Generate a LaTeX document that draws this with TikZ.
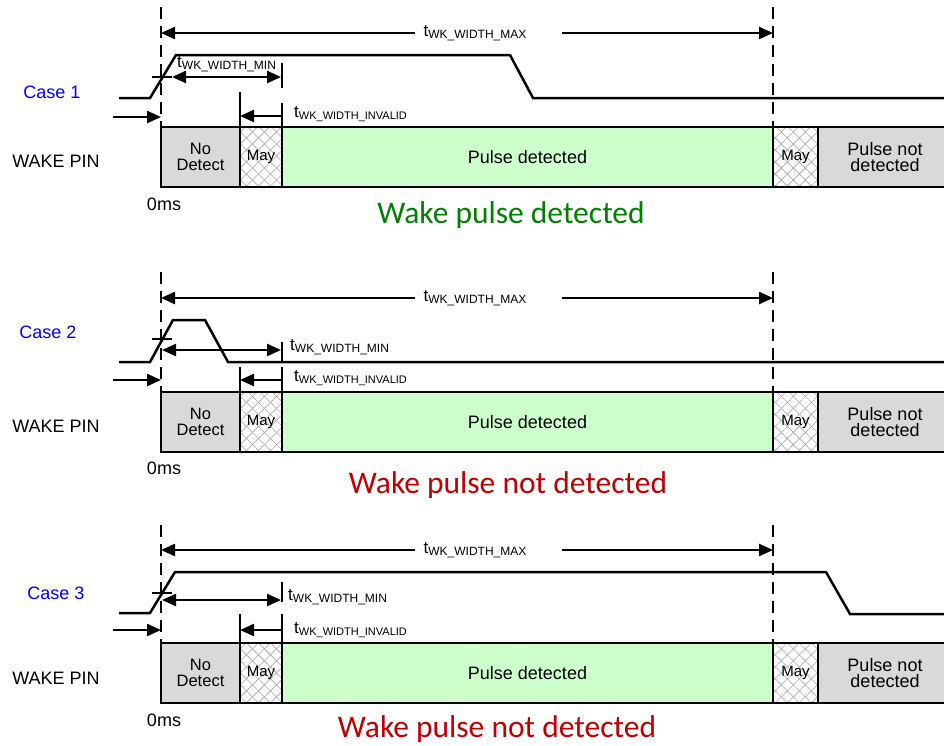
\documentclass[tikz,border=0pt]{standalone}
\usepackage{fontspec}
\setmainfont{Liberation Sans}
\newfontfamily\calibri{Carlito}
\usetikzlibrary{arrows.meta, patterns.meta}
\definecolor{zonegray}{RGB}{217,217,217}
\definecolor{zonegreen}{RGB}{204,255,204}
\definecolor{okgreen}{RGB}{0,128,0}
\definecolor{failred}{RGB}{192,0,0}
\definecolor{caseblue}{RGB}{0,0,255}
\newcommand{\tsub}[2][12]{{\fontsize{17}{17}\selectfont t}\raisebox{-2pt}{\fontsize{#1}{#1}\selectfont #2}}

\begin{document}
\begin{tikzpicture}[x=1pt, y=-1pt,
  sig/.style={line width=2.5pt},
  guide/.style={line width=2.2pt, dash pattern=on 12pt off 7pt},
  tickmark/.style={line width=2.2pt},
  dim/.style={line width=2.4pt, -{Triangle[length=14pt, width=12pt]}},
  dimboth/.style={line width=2.4pt, {Triangle[length=14pt, width=12pt]}-{Triangle[length=14pt, width=12pt]}},
  zone/.style={draw, line width=2.8pt, minimum height=60pt, inner sep=0pt, outer sep=0pt,
    align=center, font=\fontsize{18}{16.5}\selectfont},
  hatch/.style={zone, font=\fontsize{15}{15}\selectfont,
    preaction={fill=white},
    preaction={pattern={Lines[angle=45, distance=8.5pt, line width=0.6pt]}, pattern color=black!35},
    preaction={pattern={Lines[angle=-45, distance=8.5pt, line width=0.6pt]}, pattern color=black!35}},
  tlab/.style={inner sep=0pt},
  side/.style={font=\fontsize{18}{18}\selectfont},
  caselab/.style={side, text=caseblue},
  verdict/.style={font=\calibri\fontsize{31.5}{32}\selectfont}
]
\useasboundingbox (0,0) rectangle (944,745);
\clip (0,0) rectangle (944,745);

% detection windows, one row per case
\foreach \n/\yc in {1/157, 2/422, 3/673} {
  \node[zone, fill=zonegray, minimum width=79pt, font=\fontsize{16.5}{16.5}\selectfont] (nd\n) at (200.5,\yc) {No\\Detect};
  \node[hatch, minimum width=42pt] (mya\n) at (261,\yc) {May};
  \node[zone, fill=zonegreen, minimum width=491pt] (pd\n) at (527.5,\yc) {Pulse detected};
  \node[hatch, minimum width=45pt] (myb\n) at (795.5,\yc) {May};
  \node[zone, fill=zonegray, minimum width=134pt] (pn\n) at (885,\yc) {Pulse not\\detected};
}

% ---- Case 1 ----
\coordinate (top1l) at (161,7);
\coordinate (top1r) at (773,7);
\draw[guide] (top1l) -- (nd1.north west);
\draw[guide] (top1r) -- (pd1.north east);
\node[tlab] (max1) at (475,33) {\tsub{WK\_WIDTH\_MAX}};
\coordinate (max1a) at (161,33); \coordinate (max1b) at (415,33);
\coordinate (max1c) at (562,33); \coordinate (max1d) at (773,33);
\draw[dim] (max1b) -- (max1a);
\draw[dim] (max1c) -- (max1d);
\draw[sig] (119,98) -- (150,98) -- (176,55) -- (510,55) -- (533,98) -- (944,98);
\coordinate (thr1a) at (152,77); \coordinate (thr1b) at (172,77);
\draw[tickmark] (thr1a) -- (thr1b);
\coordinate (min1b) at (281,77);
\draw[dimboth] (thr1b) -- (min1b);
\node[tlab, anchor=west] (min1) at (177,64) {\tsub{WK\_WIDTH\_MIN}};
\coordinate (v1a) at (282,63); \coordinate (v1b) at (282,88);
\coordinate (v1c) at (282,103); \coordinate (v1d) at (240,92);
\draw[tickmark] (v1a) -- (v1b);
\draw[tickmark] (v1c) -- (pd1.north west);
\draw[tickmark] (v1d) -- (mya1.north west);
\coordinate (inv1a) at (282,116); \coordinate (inv1b) at (240,116);
\draw[dim] (inv1a) -- (inv1b);
\node[tlab, anchor=west] (inv1) at (294,114) {\tsub[11]{WK\_WIDTH\_INVALID}};
\coordinate (zero1a) at (113,117); \coordinate (zero1b) at (161,117);
\draw[dim] (zero1a) -- (zero1b);
\node[caselab] (case1) at (52,92) {Case 1};
\node[side] (pin1) at (56,161) {WAKE PIN};
\node[side] (ms1) at (164,204) {0ms};
\node[verdict, text=okgreen] (res1) at (511,215) {Wake pulse detected};

% ---- Case 2 ----
\coordinate (top2l) at (161,272);
\coordinate (top2r) at (773,272);
\draw[guide] (top2l) -- (nd2.north west);
\draw[guide] (top2r) -- (pd2.north east);
\node[tlab] (max2) at (475,298) {\tsub{WK\_WIDTH\_MAX}};
\coordinate (max2a) at (161,298); \coordinate (max2b) at (415,298);
\coordinate (max2c) at (562,298); \coordinate (max2d) at (773,298);
\draw[dim] (max2b) -- (max2a);
\draw[dim] (max2c) -- (max2d);
\draw[sig] (119,362) -- (150,362) -- (173,320) -- (205,320) -- (228,362) -- (944,362);
\coordinate (thr2a) at (152,339); \coordinate (thr2b) at (172,339);
\draw[tickmark] (thr2a) -- (thr2b);
\coordinate (min2a) at (162,350); \coordinate (min2b) at (281,350);
\draw[dimboth] (min2a) -- (min2b);
\node[tlab, anchor=west] (min2) at (290,347) {\tsub{WK\_WIDTH\_MIN}};
\coordinate (v2a) at (282,342); \coordinate (v2b) at (282,362);
\coordinate (v2c) at (282,367); \coordinate (v2d) at (240,367);
\draw[tickmark] (v2a) -- (v2b);
\draw[tickmark] (v2c) -- (pd2.north west);
\draw[tickmark] (v2d) -- (mya2.north west);
\coordinate (inv2a) at (282,380); \coordinate (inv2b) at (240,380);
\draw[dim] (inv2a) -- (inv2b);
\node[tlab, anchor=west] (inv2) at (294,378) {\tsub[11]{WK\_WIDTH\_INVALID}};
\coordinate (zero2a) at (113,380); \coordinate (zero2b) at (161,380);
\draw[dim] (zero2a) -- (zero2b);
\node[caselab] (case2) at (48,332) {Case 2};
\node[side] (pin2) at (56,426) {WAKE PIN};
\node[side] (ms2) at (164,468) {0ms};
\node[verdict, text=failred] (res2) at (508,485) {Wake pulse not detected};

% ---- Case 3 ----
\coordinate (top3l) at (161,525);
\coordinate (top3r) at (773,525);
\draw[guide] (top3l) -- (nd3.north west);
\draw[guide] (top3r) -- (pd3.north east);
\node[tlab] (max3) at (475,550) {\tsub{WK\_WIDTH\_MAX}};
\coordinate (max3a) at (161,550); \coordinate (max3b) at (415,550);
\coordinate (max3c) at (562,550); \coordinate (max3d) at (773,550);
\draw[dim] (max3b) -- (max3a);
\draw[dim] (max3c) -- (max3d);
\draw[sig] (119,613) -- (150,613) -- (175,572) -- (826,572) -- (850,614) -- (944,614);
\coordinate (thr3a) at (152,593); \coordinate (thr3b) at (172,593);
\draw[tickmark] (thr3a) -- (thr3b);
\coordinate (min3a) at (162,600); \coordinate (min3b) at (281,600);
\draw[dimboth] (min3a) -- (min3b);
\node[tlab, anchor=west] (min3) at (288,597) {\tsub{WK\_WIDTH\_MIN}};
\coordinate (v3a) at (282,582); \coordinate (v3b) at (282,602);
\coordinate (v3c) at (282,614); \coordinate (v3d) at (240,614);
\draw[tickmark] (v3a) -- (v3b);
\draw[tickmark] (v3c) -- (pd3.north west);
\draw[tickmark] (v3d) -- (mya3.north west);
\coordinate (inv3a) at (282,630); \coordinate (inv3b) at (240,630);
\draw[dim] (inv3a) -- (inv3b);
\node[tlab, anchor=west] (inv3) at (294,630) {\tsub[11]{WK\_WIDTH\_INVALID}};
\coordinate (zero3a) at (113,630); \coordinate (zero3b) at (161,630);
\draw[dim] (zero3a) -- (zero3b);
\node[caselab] (case3) at (56,593) {Case 3};
\node[side] (pin3) at (56,678) {WAKE PIN};
\node[side] (ms3) at (164,720) {0ms};
\node[verdict, text=failred] (res3) at (497,729) {Wake pulse not detected};
\end{tikzpicture}
\end{document}
